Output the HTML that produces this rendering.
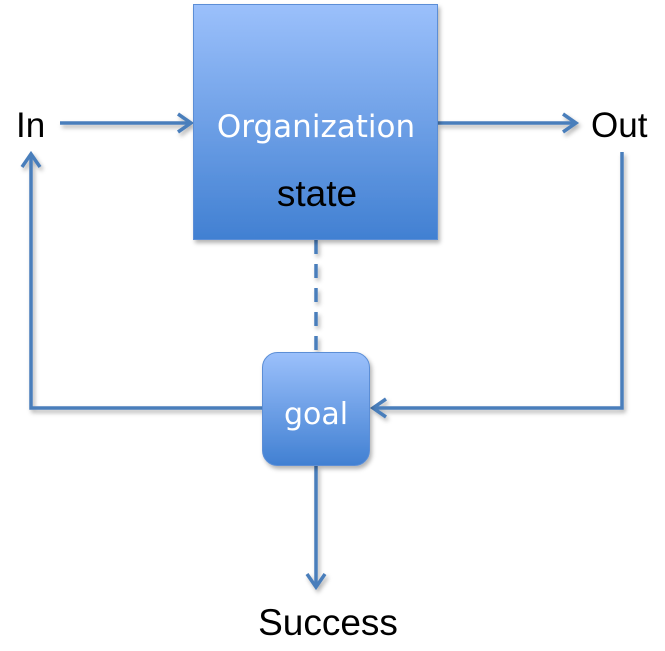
<!DOCTYPE html>
<html><head><meta charset="utf-8"><style>
html,body{margin:0;padding:0;background:#fff;}
svg{display:block;}
</style></head><body>
<svg width="665" height="651" viewBox="0 0 665 651" xmlns="http://www.w3.org/2000/svg">
<defs>
<linearGradient id="g1" x1="0" y1="0" x2="0" y2="1">
<stop offset="0" stop-color="#9bc0fb"/>
<stop offset="1" stop-color="#4180d2"/>
</linearGradient>
<filter id="sh" x="-10%" y="-10%" width="130%" height="130%">
<feDropShadow dx="2" dy="3" stdDeviation="2" flood-color="#000" flood-opacity="0.3"/>
</filter>
</defs>
<g fill="none" stroke="#4a7ebb" stroke-width="3.5" filter="url(#sh)">
<line x1="60" y1="123" x2="190" y2="123"/>
<polyline points="178,114 191,123 178,132"/>
<line x1="438" y1="123" x2="575" y2="123"/>
<polyline points="563,114 576,123 563,132"/>
<polyline points="622,152 622,408 374,408"/>
<polyline points="386,399 373,408 386,417"/>
<polyline points="262,408 31,408 31,155"/>
<polyline points="22,167 31,154 40,167"/>
<line x1="316" y1="466" x2="316" y2="586"/>
<polyline points="307,574 316,587 325,574"/>
<line x1="316" y1="240" x2="316" y2="352" stroke-dasharray="14,10"/>
</g>
<rect x="193.5" y="4.5" width="244" height="235" fill="url(#g1)" stroke="#5b8ed6" stroke-width="1" filter="url(#sh)"/>
<rect x="262.5" y="352.5" width="107" height="113" rx="15" fill="url(#g1)" stroke="#5b8ed6" stroke-width="1" filter="url(#sh)"/>
<g font-family="'Liberation Sans', 'DejaVu Sans', sans-serif">
<text x="316" y="137" fill="#fff" text-anchor="middle" font-family="'DejaVu Sans', sans-serif" font-size="31">Organization</text>
<text x="317" y="206" font-size="37" fill="#000" text-anchor="middle">state</text>
<text x="316" y="424" font-size="30" fill="#fff" text-anchor="middle" font-family="'DejaVu Sans', sans-serif">goal</text>
<text x="16" y="137" font-size="35" fill="#000">In</text>
<text x="591" y="137" font-size="35" fill="#000">Out</text>
<text x="328" y="635" font-size="37" fill="#000" text-anchor="middle">Success</text>
</g>
</svg>
</body></html>
